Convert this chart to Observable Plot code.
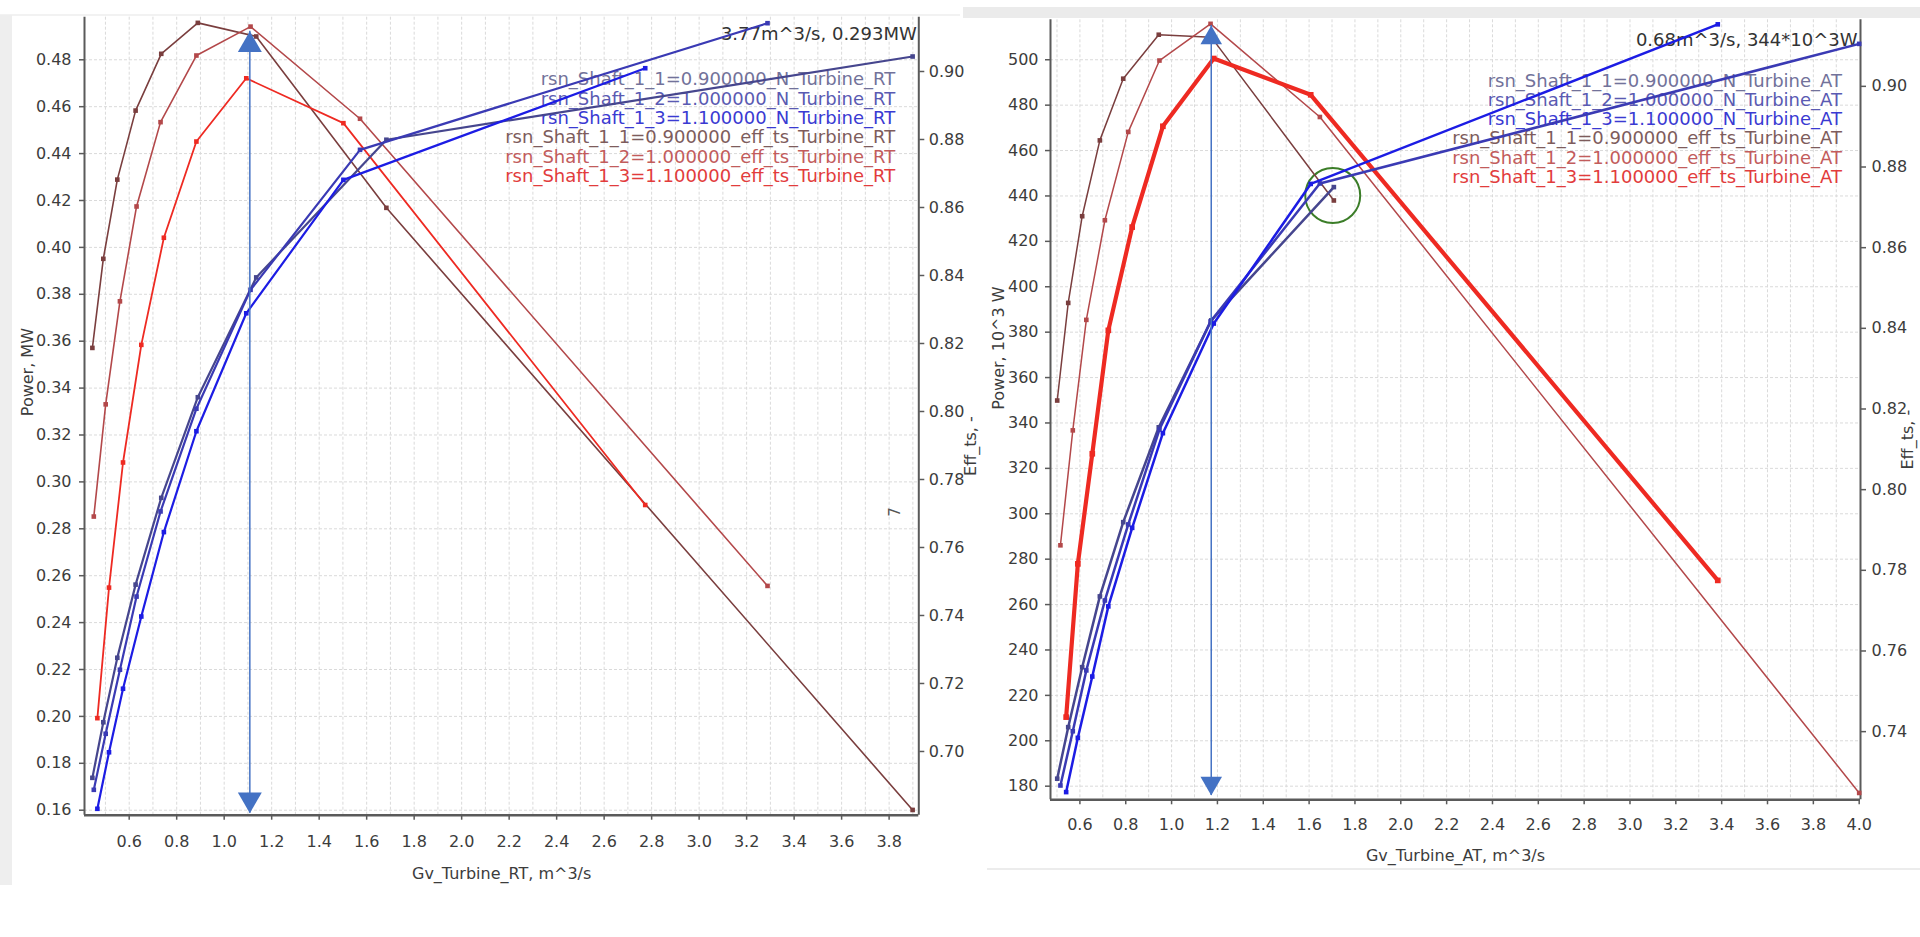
<!DOCTYPE html>
<html><head><meta charset="utf-8">
<script src="https://cdn.jsdelivr.net/npm/d3@7"></script>
<script src="https://cdn.jsdelivr.net/npm/@observablehq/plot@0.6"></script>
<style>
html,body{margin:0;padding:0;background:#fff;}
#root{position:relative;width:1920px;height:937px;overflow:hidden;background:#fff;font-family:"DejaVu Sans",sans-serif;}
.panel{position:absolute;top:0;}
.deco{position:absolute;}
</style></head>
<body>
<div id="root">
  <div class="deco" style="left:0;top:14px;width:960px;height:2px;background:#f2f2f2"></div>
  <div class="deco" style="left:0;top:15px;width:12px;height:870px;background:#eeeeee"></div>
  <div class="deco" style="left:963px;top:7px;width:957px;height:11px;background:#ebebeb"></div>
  <div class="deco" style="left:987px;top:868px;width:933px;height:2px;background:#ececec"></div>
  <div class="panel" id="left" style="left:0"></div>
  <div class="panel" id="right" style="left:960px"></div>
</div>
<script>
// ---------- Left chart (RT): Gv_Turbine_RT [m^3/s], Power [MW], Eff_ts [-] ----------
const rtGv1  = [0.445, 0.491, 0.550, 0.627, 0.735, 0.889, 1.135, 1.683, 3.899];
const rtN1   = [0.1738, 0.1975, 0.2250, 0.2562, 0.2932, 0.3361, 0.3872, 0.4459, 0.4814];
const rtEff1 = [0.8187, 0.8449, 0.8682, 0.8885, 0.9052, 0.9143, 0.9103, 0.8599, 0.6828];
const rtGv2  = [0.451, 0.501, 0.561, 0.631, 0.732, 0.883, 1.111, 1.572, 3.288];
const rtN2   = [0.1687, 0.1926, 0.2199, 0.2511, 0.2874, 0.3312, 0.3819, 0.4416, 0.4956];
const rtEff2 = [0.7691, 0.8021, 0.8324, 0.8603, 0.8851, 0.9047, 0.9132, 0.8861, 0.7487];
const rtGv3  = [0.466, 0.515, 0.574, 0.651, 0.746, 0.883, 1.093, 1.502, 2.773];
const rtN3   = [0.1606, 0.1847, 0.2118, 0.2426, 0.2786, 0.3216, 0.3719, 0.4288, 0.4764];
const rtEff3 = [0.7098, 0.7482, 0.7850, 0.8196, 0.8511, 0.8794, 0.8980, 0.8848, 0.7725];
const rtXTicks = [0.6, 0.8, 1.0, 1.2, 1.4, 1.6, 1.8, 2.0, 2.2, 2.4, 2.6, 2.8, 3.0, 3.2, 3.4, 3.6, 3.8];
const rtXGrid = [0.5, 0.6, 0.7, 0.8, 0.9, 1.0, 1.1, 1.2, 1.3, 1.4, 1.5, 1.6, 1.7, 1.8, 1.9, 2.0, 2.1, 2.2, 2.3, 2.4, 2.5, 2.6, 2.7, 2.8, 2.9, 3.0, 3.1, 3.2, 3.3, 3.4, 3.5, 3.6, 3.7, 3.8, 3.9];
const rtPTicks = [0.16, 0.18, 0.20, 0.22, 0.24, 0.26, 0.28, 0.30, 0.32, 0.34, 0.36, 0.38, 0.40, 0.42, 0.44, 0.46, 0.48];
const rtETicks = [0.70, 0.72, 0.74, 0.76, 0.78, 0.80, 0.82, 0.84, 0.86, 0.88, 0.90];
const rtLegend = [
  "rsn_Shaft_1_1=0.900000_N_Turbine_RT",
  "rsn_Shaft_1_2=1.000000_N_Turbine_RT",
  "rsn_Shaft_1_3=1.100000_N_Turbine_RT",
  "rsn_Shaft_1_1=0.900000_eff_ts_Turbine_RT",
  "rsn_Shaft_1_2=1.000000_eff_ts_Turbine_RT",
  "rsn_Shaft_1_3=1.100000_eff_ts_Turbine_RT"
];
const rtNote = "3.77m^3/s, 0.293MW";
const rtArrowGv = 1.108;
const rtArrowPower = [0.1587, 0.4922];

// ---------- Right chart (AT): Gv_Turbine_AT [m^3/s], Power [10^3 W], Eff_ts [-] ----------
const atGv1  = [0.501, 0.549, 0.610, 0.687, 0.789, 0.944, 1.173, 1.708];
const atN1   = [183.3, 206.0, 232.4, 263.6, 296.3, 338.1, 385.2, 443.9];
const atEff1 = [0.8221, 0.8463, 0.8678, 0.8866, 0.9019, 0.9128, 0.9122, 0.8717];
const atGv2  = [0.515, 0.569, 0.628, 0.709, 0.811, 0.947, 1.170, 1.647, 4.0];
const atN2   = [180.3, 204.2, 231.0, 261.8, 295.3, 337.1, 384.7, 445.5, 507.0];
const atEff2 = [0.7862, 0.8147, 0.8421, 0.8668, 0.8887, 0.9064, 0.9155, 0.8924, 0.7248];
const atGv3  = [0.540, 0.591, 0.654, 0.724, 0.828, 0.962, 1.184, 1.607, 3.383];
const atN3   = [177.4, 201.3, 228.3, 259.2, 293.8, 335.5, 383.8, 445.3, 515.6];
const atEff3 = [0.7436, 0.7816, 0.8089, 0.8395, 0.8651, 0.8901, 0.9069, 0.8979, 0.7775];
const atXTicks = [0.6, 0.8, 1.0, 1.2, 1.4, 1.6, 1.8, 2.0, 2.2, 2.4, 2.6, 2.8, 3.0, 3.2, 3.4, 3.6, 3.8, 4.0];
const atXGrid = [0.5, 0.6, 0.7, 0.8, 0.9, 1.0, 1.1, 1.2, 1.3, 1.4, 1.5, 1.6, 1.7, 1.8, 1.9, 2.0, 2.1, 2.2, 2.3, 2.4, 2.5, 2.6, 2.7, 2.8, 2.9, 3.0, 3.1, 3.2, 3.3, 3.4, 3.5, 3.6, 3.7, 3.8, 3.9];
const atPTicks = [180, 200, 220, 240, 260, 280, 300, 320, 340, 360, 380, 400, 420, 440, 460, 480, 500];
const atETicks = [0.74, 0.76, 0.78, 0.80, 0.82, 0.84, 0.86, 0.88, 0.90];
const atLegend = [
  "rsn_Shaft_1_1=0.900000_N_Turbine_AT",
  "rsn_Shaft_1_2=1.000000_N_Turbine_AT",
  "rsn_Shaft_1_3=1.100000_N_Turbine_AT",
  "rsn_Shaft_1_1=0.900000_eff_ts_Turbine_AT",
  "rsn_Shaft_1_2=1.000000_eff_ts_Turbine_AT",
  "rsn_Shaft_1_3=1.100000_eff_ts_Turbine_AT"
];
const atNote = "0.68m^3/s, 344*10^3W";
const atArrowGv = 1.173;
const atArrowPower = [175.9, 515.1];
const atCircle = {gv: 1.703, power: 440.2};

// ---------- Colours ----------
const nColors   = ["#46468e", "#3a3ab4", "#1c1ce4"];
const effColors = ["#7a3e3e", "#b3484a", "#ee2a22"];
const legendColors = ["#72729a", "#5a5ab2", "#3a3ad2", "#7e5c5c", "#c25c5c", "#e23c3c"];
const arrowColor = "#4472c4";
const axisColor = "#5a5a5a";
const textColor = "#3c3c3c";
const gridColor = "#dadada";

function rows(gv, vals) { return gv.map((g, i) => ({gv: g, v: vals[i]})); }

function panel(c) {
  const e2p = e => c.pDom[0] + (e - c.eDom[0]) / (c.eDom[1] - c.eDom[0]) * (c.pDom[1] - c.pDom[0]);
  const p2e = p => c.eDom[0] + (p - c.pDom[0]) / (c.pDom[1] - c.pDom[0]) * (c.eDom[1] - c.eDom[0]);
  const marks = [
    Plot.gridX(c.xGrid, {stroke: gridColor, strokeOpacity: 1, strokeDasharray: "3,2"}),
    Plot.gridY(c.pTicks, {stroke: gridColor, strokeOpacity: 1, strokeDasharray: "3,2"}),
    Plot.axisX(c.xTicks, {tickSize: 5, tickPadding: c.xPad, label: null, tickFormat: d => d.toFixed(1), stroke: axisColor, strokeWidth: 1.5}),
    Plot.axisY(c.pTicks, {anchor: "left", tickSize: 5, tickPadding: c.lPad, label: null, tickFormat: c.pFmt, stroke: axisColor, strokeWidth: 1.5}),
    Plot.axisY(c.eTicks.map(e2p), {anchor: "right", tickSize: 5, tickPadding: c.rPad, label: null, tickFormat: d => p2e(d).toFixed(2), stroke: axisColor, strokeWidth: 1.5}),
    Plot.ruleX([c.xDom[0], c.xDom[1]], {stroke: axisColor, strokeWidth: 2}),
    Plot.ruleY([c.pDom[0]], {stroke: axisColor, strokeWidth: 2.5}),
    Plot.text([c.yTitle], {frameAnchor: "left", rotate: -90, dx: c.yTitleDx, fontSize: 16, fill: textColor}),
    Plot.text(["Eff_ts, -"], {frameAnchor: "right", rotate: -90, dx: c.eTitleDx, fontSize: 16, fill: textColor}),
    Plot.text([c.xTitle], {frameAnchor: "bottom", dy: c.xTitleDy, fontSize: 16, fill: textColor, lineAnchor: "middle"}),
    Plot.text([c.note], {frameAnchor: "top-right", dx: c.noteDx, dy: c.noteDy, textAnchor: "end", lineAnchor: "middle", fontSize: 18, fill: "#333"})
  ];
  c.legend.forEach((lab, i) => {
    marks.push(Plot.text([lab], {frameAnchor: "top-right", dx: c.legDx, dy: c.legDy + i * 19.3, textAnchor: "end", lineAnchor: "middle", fontSize: 18, fill: legendColors[i]}));
  });
  if (c.extra) marks.push(...c.extra);
  // efficiency series (right axis)
  c.eff.forEach((s, i) => {
    const d = rows(s.gv, s.v);
    marks.push(Plot.line(d, {x: "gv", y: r => e2p(r.v), stroke: effColors[i], strokeWidth: c.effW[i]}));
    marks.push(Plot.dot(d, {x: "gv", y: r => e2p(r.v), symbol: "square", r: c.effR[i], fill: effColors[i]}));
  });
  // power series (left axis)
  c.pow.forEach((s, i) => {
    const d = rows(s.gv, s.v);
    marks.push(Plot.line(d, {x: "gv", y: "v", stroke: nColors[i], strokeWidth: c.nW}));
    marks.push(Plot.dot(d, {x: "gv", y: "v", symbol: "square", r: 2.6, fill: nColors[i]}));
  });
  // vertical double arrow
  marks.push(Plot.ruleX([c.arrowGv], {y1: c.arrowP[0], y2: c.arrowP[1], stroke: arrowColor, strokeWidth: 1.5}));
  marks.push(Plot.dot([{gv: c.arrowGv, v: c.arrowP[1]}], {x: "gv", y: "v", symbol: "triangle", r: c.headR, fill: arrowColor, dy: c.headOff}));
  marks.push(Plot.dot([{gv: c.arrowGv, v: c.arrowP[0]}], {x: "gv", y: "v", symbol: "triangle", r: c.headR, fill: arrowColor, rotate: 180, dy: -c.headOff}));
  return Plot.plot({
    width: c.width, height: 937,
    marginLeft: c.mL, marginRight: c.mR, marginTop: c.mT, marginBottom: c.mB,
    x: {domain: c.xDom, axis: null},
    y: {domain: c.pDom, axis: null},
    style: {fontFamily: "DejaVu Sans", fontSize: "16px", color: textColor, background: "transparent", overflow: "visible", maxWidth: "none"},
    marks
  });
}

const leftPlot = panel({
  width: 990, mL: 84, mR: 71.7, mT: 16.7, mB: 122.3,
  xDom: [0.4118, 3.925], pDom: [0.15787, 0.49816], eDom: [0.68126, 0.91597],
  xTicks: rtXTicks, xGrid: rtXGrid, pTicks: rtPTicks, eTicks: rtETicks,
  pFmt: d => d.toFixed(2), xPad: 15, lPad: 8, rPad: 5,
  yTitle: "Power, MW", yTitleDx: -56.5, eTitleDx: 52, xTitle: "Gv_Turbine_RT, m^3/s", xTitleDy: 59,
  note: rtNote, noteDx: -2, noteDy: 17.5,
  legend: rtLegend, legDx: -23.5, legDy: 62.5,
  eff: [{gv: rtGv1, v: rtEff1}, {gv: rtGv2, v: rtEff2}, {gv: rtGv3, v: rtEff3}],
  pow: [{gv: rtGv1, v: rtN1}, {gv: rtGv2, v: rtN2}, {gv: rtGv3, v: rtN3}],
  effW: [1.6, 1.6, 1.8], effR: [2.6, 2.6, 2.6], nW: 2.2,
  arrowGv: rtArrowGv, arrowP: rtArrowPower, headR: 8.9, headOff: 13.9,
  extra: [Plot.text(["7"], {frameAnchor: "top-right", dx: -29, dy: 490, rotate: -90, fontSize: 15, fill: "#555"})]
});

const rightPlot = panel({
  width: 960, mL: 90, mR: 60, mT: 19.3, mB: 137.7,
  xDom: [0.4717, 4.0057], pDom: [174.0, 517.6], eDom: [0.7231, 0.9165],
  xTicks: atXTicks, xGrid: atXGrid, pTicks: atPTicks, eTicks: atETicks,
  pFmt: d => d.toFixed(0), xPad: 14, lPad: 7, rPad: 6,
  yTitle: "Power, 10^3 W", yTitleDx: -52, eTitleDx: 47, xTitle: "Gv_Turbine_AT, m^3/s", xTitleDy: 56,
  note: atNote, noteDx: -3, noteDy: 20,
  legend: atLegend, legDx: -18.5, legDy: 61,
  eff: [{gv: atGv1, v: atEff1}, {gv: atGv2, v: atEff2}, {gv: atGv3, v: atEff3}],
  pow: [{gv: atGv1, v: atN1}, {gv: atGv2, v: atN2}, {gv: atGv3, v: atN3}],
  effW: [1.5, 1.5, 4.2], effR: [2.6, 2.6, 3.2], nW: 2.5,
  arrowGv: atArrowGv, arrowP: atArrowPower, headR: 8.0, headOff: 12.5,
  extra: [Plot.dot([atCircle], {x: "gv", y: "power", r: 27.5, stroke: "#3b7d28", strokeWidth: 2, fill: "none"})]
});

document.getElementById("left").appendChild(leftPlot);
document.getElementById("right").appendChild(rightPlot);
</script>
</body></html>
